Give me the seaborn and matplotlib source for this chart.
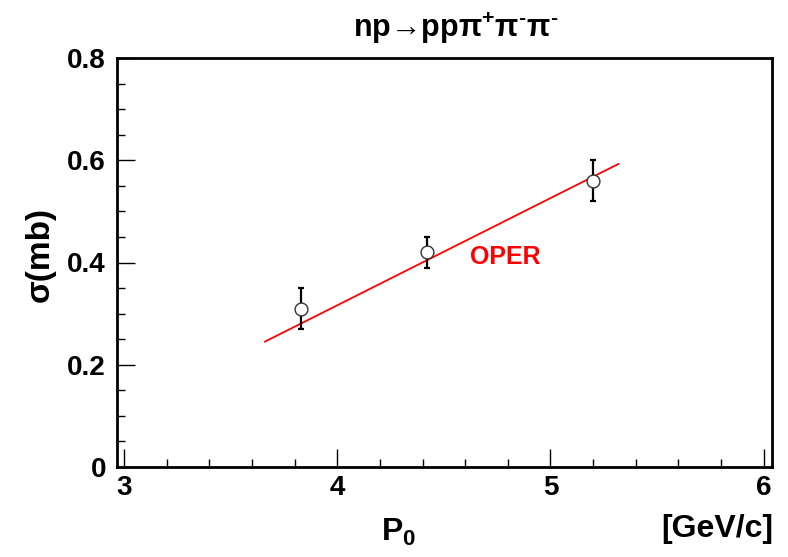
import matplotlib
matplotlib.use("Agg")
import matplotlib.pyplot as plt
from matplotlib.ticker import MultipleLocator
import numpy as np
import pandas as pd
import seaborn as sns

# Measured cross sections
p0 = [3.83, 4.42, 5.20]
sigma = [0.31, 0.42, 0.56]
sigma_err = [0.04, 0.03, 0.04]

# OPER model curve
oper_p0 = [3.66, 5.32]
oper_sigma = [0.245, 0.593]

x_ticks = [3, 4, 5, 6]
y_ticks = [0, 0.2, 0.4, 0.6, 0.8]
y_tick_labels = ["0", "0.2", "0.4", "0.6", "0.8"]

sns.set_style("white")
FONT = ["Liberation Sans", "DejaVu Sans"]
plt.rcParams["font.family"] = FONT
plt.rcParams["font.weight"] = "bold"
plt.rcParams["mathtext.default"] = "regular"
plt.rcParams["text.color"] = "black"
plt.rcParams["xtick.color"] = "black"
plt.rcParams["ytick.color"] = "black"

fig = plt.figure(figsize=(7.88, 5.57), dpi=100)
ax = fig.add_axes([117 / 788, 1 - 467 / 557, (772 - 117) / 788, (467 - 58) / 557])

data = pd.DataFrame({"p0": p0, "sigma": sigma})
model = pd.DataFrame({"p0": oper_p0, "sigma": oper_sigma})

sns.lineplot(data=model, x="p0", y="sigma", ax=ax, color="#ff0000", lw=1.3, zorder=2)
ax.errorbar(p0, sigma, yerr=sigma_err, fmt="none", ecolor="black",
            elinewidth=1.6, capsize=2, capthick=1.6, zorder=3)
sns.scatterplot(data=data, x="p0", y="sigma", ax=ax, marker="o", s=85,
                facecolor="white", edgecolor="#333333", linewidth=1.0, zorder=4)

ax.set_xlim(2.967, 6.039)
ax.set_ylim(0, 0.8)
ax.set_xticks(x_ticks)
ax.set_yticks(y_ticks)
ax.set_yticklabels(y_tick_labels)
ax.xaxis.set_minor_locator(MultipleLocator(0.2))
ax.yaxis.set_minor_locator(MultipleLocator(0.05))
ax.tick_params(which="both", direction="in", bottom=True, left=True,
               top=False, right=False, colors="black", labelsize=20)
ax.tick_params(which="major", length=13, width=1.0)
ax.tick_params(which="minor", length=6, width=1.0)
ax.tick_params(axis="x", pad=6)
ax.tick_params(axis="y", pad=8)
for lab in ax.get_xticklabels() + ax.get_yticklabels():
    lab.set_fontweight("bold")

for side in ["left", "right", "top", "bottom"]:
    ax.spines[side].set_visible(True)
    ax.spines[side].set_linewidth(2.0)
    ax.spines[side].set_color("black")

ax.set_xlabel("")
ax.set_ylabel("")

ax.text(4.79, 0.411, "OPER", color="#ff0000", fontsize=18, fontweight="bold",
        ha="center", va="center")

fig.text(456 / 788, 1 - 28 / 557,
         "np\u2192pp\u03c0$^{+}$\u03c0$^{\u2010}$\u03c0$^{\u2010}$",
         ha="center", va="center", fontsize=22, fontweight="bold",
         family=FONT, color="black")
fig.text(40 / 788, 1 - 254 / 557, "\u03c3(mb)", rotation=90, ha="center",
         va="center", fontsize=24, fontweight="bold", family=FONT, color="black")
fig.text(399 / 788, 1 - 532 / 557, "P$_{0}$", ha="center", va="center",
         fontsize=23, fontweight="bold", family=FONT, color="black")
fig.text(773 / 788, 1 - 529 / 557, "[GeV/c]", ha="right", va="center",
         fontsize=23, fontweight="bold", family=FONT, color="black")

fig.savefig("out.png", dpi=100, facecolor="white")
